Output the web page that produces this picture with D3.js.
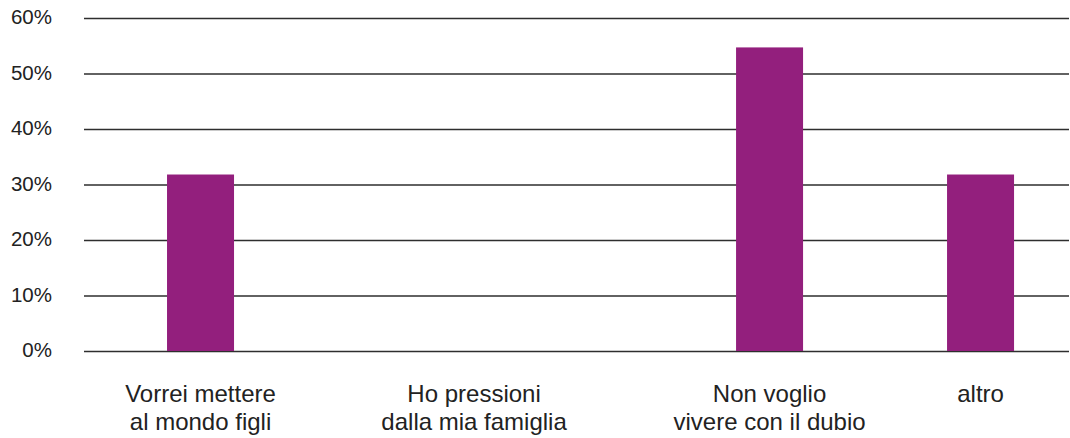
<!DOCTYPE html>
<html>
<head>
<meta charset="utf-8">
<script src="https://cdn.jsdelivr.net/npm/d3@7"></script>
<style>
  html, body { margin: 0; padding: 0; background: #fff; }
  svg { display: block; font-family: "Liberation Sans", Arial, Helvetica, sans-serif; }
</style>
</head>
<body>
<svg id="chart" width="1070" height="438"></svg>
<script>
// Survey answers (share of respondents, %)
const categories = [
  "Vorrei mettere\nal mondo figli",
  "Ho pressioni\ndalla mia famiglia",
  "Non voglio\nvivere con il dubio",
  "altro"
];
const values = [31.8, 0, 54.7, 31.8];
const yTicks = [0, 10, 20, 30, 40, 50, 60];
const yTickLabels = ["0%", "10%", "20%", "30%", "40%", "50%", "60%"];

// Layout
const width = 1070, height = 438;
const plot = { left: 84, right: 1069, top: 18, bottom: 351 };
const barWidth = 67;
// Relative position of each category along the horizontal axis
const slotFractions = [0.1183, 0.3960, 0.6960, 0.9102];

const svg = d3.select("#chart");

const y = d3.scaleLinear().domain([0, 60]).range([plot.bottom, plot.top]);
const slot = d3.scaleOrdinal().domain(categories).range(slotFractions);
const xPos = d3.scaleLinear().domain([0, 1]).range([plot.left, plot.right]);
const x = c => xPos(slot(c));

// Horizontal gridlines with percentage labels
const yAxis = d3.axisLeft(y)
  .tickValues(yTicks)
  .tickFormat((d, i) => yTickLabels[i])
  .tickSize(-(plot.right - plot.left))
  .tickPadding(32);

const gy = svg.append("g")
  .attr("transform", `translate(${plot.left},0)`)
  .call(yAxis);
gy.select(".domain").remove();
gy.selectAll(".tick line")
  .attr("stroke", "#2e2e2e")
  .attr("stroke-width", 1.4);
gy.selectAll(".tick text")
  .attr("fill", "#222")
  .attr("font-size", 20.5)
  .attr("dy", "0.28em");

// Bars
svg.append("g").selectAll("rect")
  .data(categories)
  .join("rect")
  .attr("x", c => x(c) - barWidth / 2)
  .attr("width", barWidth)
  .attr("y", (c, i) => y(values[i]))
  .attr("height", (c, i) => y(0) - y(values[i]))
  .attr("fill", "#931f7d");

// Category labels (two lines each)
const labels = svg.append("g").selectAll("text")
  .data(categories)
  .join("text")
  .attr("text-anchor", "middle")
  .attr("fill", "#222")
  .attr("font-size", 24)
  .attr("transform", c => `translate(${x(c)},${plot.bottom + 51})`);
labels.selectAll("tspan")
  .data(c => c.split("\n"))
  .join("tspan")
  .attr("x", 0)
  .attr("y", (d, i) => i * 28)
  .text(d => d);
</script>
</body>
</html>
